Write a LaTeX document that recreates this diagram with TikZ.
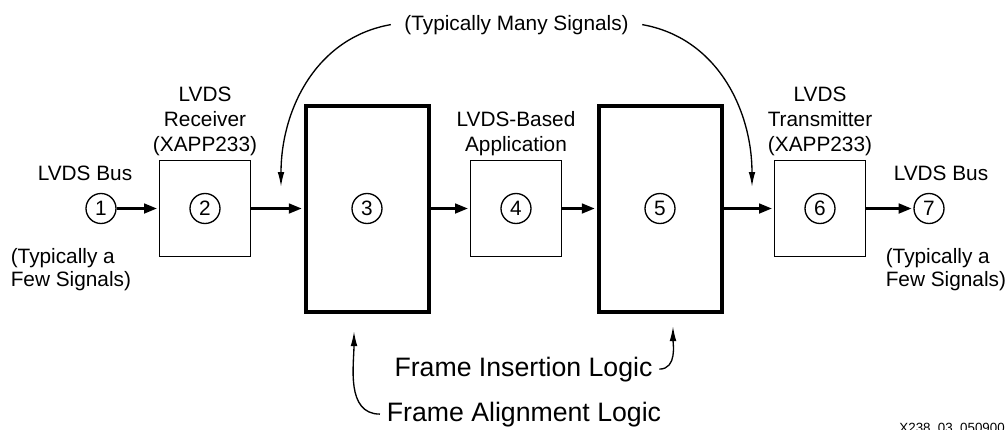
\documentclass[tikz,border=0pt]{standalone}
\usepackage{fontspec}
\setmainfont{Liberation Sans}
\usetikzlibrary{arrows.meta,positioning}

\tikzset{
  thinbox/.style={draw,line width=1pt,minimum width=68.5pt,minimum height=72pt},
  thickbox/.style={draw,line width=3pt,minimum width=92.25pt,minimum height=154.5pt},
  num/.style={draw,circle,line width=1pt,minimum size=22.5pt,inner sep=0pt,font=\fontsize{15.6}{18}\selectfont},
  bus/.style={line width=2.5pt,-{Triangle[length=10pt,width=7pt]}},
  pointer/.style={line width=1pt,-{Latex[length=11pt,width=5pt]}},
  lbl/.style={align=center,inner sep=0pt,font=\fontsize{15.6}{18.75}\selectfont},
  note/.style={align=left,inner sep=0pt,font=\fontsize{15.6}{17}\selectfont},
  logic/.style={inner xsep=5pt,inner ysep=0pt,font=\fontsize{20}{24}\selectfont},
}

\begin{document}
\begin{tikzpicture}[x=0.75pt,y=0.75pt,shorten >=1pt,on grid]
  \useasboundingbox (0,0) rectangle (1008,-429);
  \node[num] (1) at (101,-208.5) {1};
  \node[thinbox,right=78pt of 1] (rx) {};
  \node[thickbox,right=121.5pt of rx] (align) {};
  \node[thinbox,right=111.75pt of align] (app) {};
  \node[thickbox,right=108pt of app] (insert) {};
  \node[thinbox,right=120pt of insert] (tx) {};
  \node[num,right=81.75pt of tx] (7) {7};
  % numbers in the boxes
  \node[num] (2) at (rx) {2};
  \node[num] (3) at (align) {3};
  \node[num] (4) at (app) {4};
  \node[num] (5) at (insert) {5};
  \node[num] (6) at (tx) {6};

  % labels
  \node[lbl,above=2.7pt of rx.north,anchor=south] (rxl) {LVDS\\Receiver\\(XAPP233)};
  \node[lbl,above=2.7pt of app.north,anchor=south] (appl) {LVDS-Based\\Application};
  \node[lbl,above=2.7pt of tx.north,anchor=south] (txl) {LVDS\\Transmitter\\(XAPP233)};
  \node[lbl,anchor=base] (busin) at (85,-180) {LVDS Bus};
  \node[note,anchor=north west] (fewin) at (10.5,-248) {(Typically a\\Few Signals)};
  \node[lbl,anchor=base] (busout) at (941,-180) {LVDS Bus};
  \node[note,anchor=north west] (fewout) at (885.5,-248) {(Typically a\\Few Signals)};
  \node[lbl,anchor=base,inner xsep=10pt] (many) at (516.5,-30) {(Typically Many Signals)};
  \node[logic,anchor=base] (ins) at (523.5,-376) {Frame Insertion Logic};
  \node[logic,anchor=base] (aln) at (524,-421) {Frame Alignment Logic};
  \node[font=\fontsize{10}{12}\selectfont,inner sep=0pt,anchor=north east] (id) at (1005,-423) {X238\_03\_050900};

  \coordinate (inL) at (281,-188);
  \coordinate (inR) at (752,-188);
  \coordinate (upA) at (354,-330);
  \coordinate (upI) at (673,-325);

  \draw[bus] (1) -- (rx);
  \draw[bus] (rx) -- (align);
  \draw[bus] (align) -- (app);
  \draw[bus] (app) -- (insert);
  \draw[bus] (insert) -- (tx);
  \draw[bus] (tx) -- (7);

  \draw[pointer] (many.west) to[out=190,in=90] (inL);
  \draw[pointer] (many.east) to[out=-10,in=90] (inR);
  \draw[pointer] (aln.west) to[out=180,in=-90] (upA);
  \draw[pointer] (ins.east) to[out=0,in=-90] (upI);
\end{tikzpicture}
\end{document}
